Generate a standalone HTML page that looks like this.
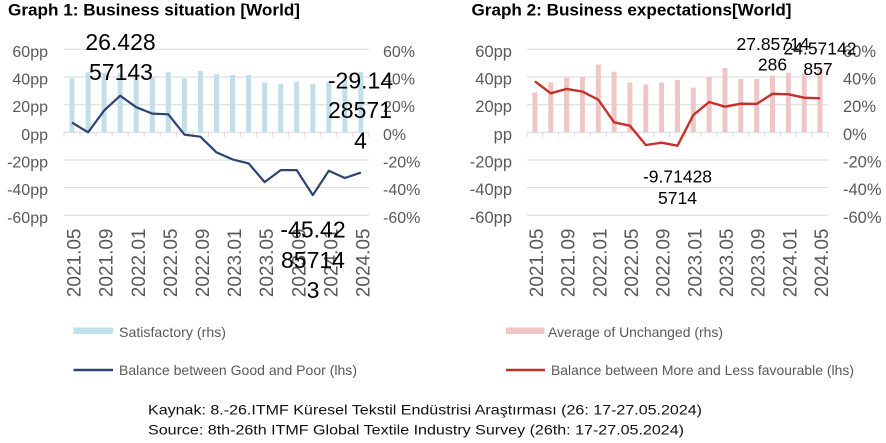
<!DOCTYPE html>
<html>
<head>
<meta charset="utf-8">
<style>
  html, body { margin: 0; padding: 0; background: #ffffff; }
  svg { display: block; }
  text { font-family: "Liberation Sans", Arial, sans-serif; }
</style>
</head>
<body>
<svg width="886" height="443" viewBox="0 0 886 443" xmlns="http://www.w3.org/2000/svg">
  <rect x="0" y="0" width="886" height="443" fill="#ffffff"/>

  <!-- Titles -->
  <text x="8" y="15.5" font-size="17" font-weight="bold" fill="#000" textLength="292" lengthAdjust="spacingAndGlyphs">Graph 1: Business situation [World]</text>
  <text x="471.5" y="15.5" font-size="17" font-weight="bold" fill="#000" textLength="320" lengthAdjust="spacingAndGlyphs">Graph 2: Business expectations[World]</text>

  <!-- ============ CHART 1 ============ -->
  <g stroke="#d9d9d9" stroke-width="1">
    <line x1="64" y1="49.3" x2="369" y2="49.3"/>
    <line x1="64" y1="77" x2="369" y2="77"/>
    <line x1="64" y1="104.7" x2="369" y2="104.7"/>
    <line x1="64" y1="132.3" x2="369" y2="132.3"/>
    <line x1="64" y1="160" x2="369" y2="160"/>
    <line x1="64" y1="187.6" x2="369" y2="187.6"/>
    <line x1="64" y1="215.3" x2="369" y2="215.3"/>
    <!-- ticks -->
    <line x1="64" y1="132.3" x2="64" y2="137"/>
    <line x1="80.05" y1="132.3" x2="80.05" y2="137"/>
    <line x1="96.1" y1="132.3" x2="96.1" y2="137"/>
    <line x1="112.15" y1="132.3" x2="112.15" y2="137"/>
    <line x1="128.2" y1="132.3" x2="128.2" y2="137"/>
    <line x1="144.25" y1="132.3" x2="144.25" y2="137"/>
    <line x1="160.3" y1="132.3" x2="160.3" y2="137"/>
    <line x1="176.35" y1="132.3" x2="176.35" y2="137"/>
    <line x1="192.4" y1="132.3" x2="192.4" y2="137"/>
    <line x1="208.45" y1="132.3" x2="208.45" y2="137"/>
    <line x1="224.5" y1="132.3" x2="224.5" y2="137"/>
    <line x1="240.55" y1="132.3" x2="240.55" y2="137"/>
    <line x1="256.6" y1="132.3" x2="256.6" y2="137"/>
    <line x1="272.65" y1="132.3" x2="272.65" y2="137"/>
    <line x1="288.7" y1="132.3" x2="288.7" y2="137"/>
    <line x1="304.75" y1="132.3" x2="304.75" y2="137"/>
    <line x1="320.8" y1="132.3" x2="320.8" y2="137"/>
    <line x1="336.85" y1="132.3" x2="336.85" y2="137"/>
    <line x1="352.9" y1="132.3" x2="352.9" y2="137"/>
    <line x1="369" y1="132.3" x2="369" y2="137"/>
  </g>

  <!-- bars chart 1 -->
  <g fill="#bfe0ea">
    <rect x="69.5" y="78.4" width="5" height="53.9"/>
    <rect x="85.6" y="72.3" width="5" height="60"/>
    <rect x="101.6" y="73.2" width="5" height="59.1"/>
    <rect x="117.7" y="72.8" width="5" height="59.5"/>
    <rect x="133.7" y="74.3" width="5" height="58"/>
    <rect x="149.8" y="77" width="5" height="55.3"/>
    <rect x="165.8" y="72.3" width="5" height="60"/>
    <rect x="181.9" y="78.4" width="5" height="53.9"/>
    <rect x="197.9" y="71" width="5" height="61.3"/>
    <rect x="214" y="74.3" width="5" height="58"/>
    <rect x="230" y="75" width="5" height="57.3"/>
    <rect x="246.1" y="75" width="5" height="57.3"/>
    <rect x="262.1" y="82.6" width="5" height="49.7"/>
    <rect x="278.2" y="84" width="5" height="48.3"/>
    <rect x="294.2" y="81.7" width="5" height="50.6"/>
    <rect x="310.3" y="84" width="5" height="48.3"/>
    <rect x="326.3" y="82.1" width="5" height="50.2"/>
    <rect x="342.4" y="80" width="5" height="52.3"/>
    <rect x="358.4" y="71.7" width="5" height="60.6"/>
  </g>

  <!-- line chart 1 -->
  <polyline fill="none" stroke="#2c4373" stroke-width="2.2" stroke-linejoin="round"
    points="72,122.6 88.1,132.3 104.1,110.6 120.2,95.7 136.2,107.2 152.3,113.6 168.3,114.3 184.4,134.6 200.4,136.7 216.5,152.4 232.5,159.4 248.6,163.4 264.6,182.1 280.7,170.1 296.7,170.1 312.8,195.1 328.8,170.8 344.9,178 360.9,172.6"/>

  <!-- axis labels chart 1 -->
  <g font-size="16" fill="#595959" text-anchor="end">
    <text x="48" y="56.8">60pp</text>
    <text x="48" y="84.5">40pp</text>
    <text x="48" y="112.2">20pp</text>
    <text x="48" y="139.8">0pp</text>
    <text x="48" y="167.5">-20pp</text>
    <text x="48" y="195.1">-40pp</text>
    <text x="48" y="222.8">-60pp</text>
  </g>
  <g font-size="16" fill="#595959">
    <text x="383" y="56.8">60%</text>
    <text x="383" y="84.5">40%</text>
    <text x="383" y="112.2">20%</text>
    <text x="383" y="139.8">0%</text>
    <text x="383" y="167.5">-20%</text>
    <text x="383" y="195.1">-40%</text>
    <text x="383" y="222.8">-60%</text>
  </g>

  <!-- category labels chart 1 -->
  <g font-size="19" fill="#595959" text-anchor="end">
    <text transform="translate(80.6,228.5) rotate(-90)">2021.05</text>
    <text transform="translate(112.7,228.5) rotate(-90)">2021.09</text>
    <text transform="translate(144.8,228.5) rotate(-90)">2022.01</text>
    <text transform="translate(176.9,228.5) rotate(-90)">2022.05</text>
    <text transform="translate(209,228.5) rotate(-90)">2022.09</text>
    <text transform="translate(241.1,228.5) rotate(-90)">2023.01</text>
    <text transform="translate(273.2,228.5) rotate(-90)">2023.05</text>
    <text transform="translate(305.3,228.5) rotate(-90)">2023.09</text>
    <text transform="translate(337.4,228.5) rotate(-90)">2024.01</text>
    <text transform="translate(369.5,228.5) rotate(-90)">2024.05</text>
  </g>

  <!-- data labels chart 1 -->
  <g font-size="23" fill="#000" text-anchor="middle">
    <text x="120.5" y="50">26.428</text>
    <text x="121" y="80">57143</text>
    <text x="360.5" y="88.3">-29.14</text>
    <text x="360" y="118">28571</text>
    <text x="360.5" y="148.3">4</text>
    <text x="313" y="237.7">-45.42</text>
    <text x="313" y="268">85714</text>
    <text x="313" y="298">3</text>
  </g>

  <!-- ============ CHART 2 ============ -->
  <g stroke="#d9d9d9" stroke-width="1">
    <line x1="527" y1="49.3" x2="828" y2="49.3"/>
    <line x1="527" y1="77" x2="828" y2="77"/>
    <line x1="527" y1="104.7" x2="828" y2="104.7"/>
    <line x1="527" y1="132.3" x2="828" y2="132.3"/>
    <line x1="527" y1="160" x2="828" y2="160"/>
    <line x1="527" y1="187.6" x2="828" y2="187.6"/>
    <line x1="527" y1="215.3" x2="828" y2="215.3"/>
    <line x1="527" y1="132.3" x2="527" y2="137"/>
    <line x1="542.84" y1="132.3" x2="542.84" y2="137"/>
    <line x1="558.68" y1="132.3" x2="558.68" y2="137"/>
    <line x1="574.52" y1="132.3" x2="574.52" y2="137"/>
    <line x1="590.36" y1="132.3" x2="590.36" y2="137"/>
    <line x1="606.2" y1="132.3" x2="606.2" y2="137"/>
    <line x1="622.04" y1="132.3" x2="622.04" y2="137"/>
    <line x1="637.88" y1="132.3" x2="637.88" y2="137"/>
    <line x1="653.72" y1="132.3" x2="653.72" y2="137"/>
    <line x1="669.56" y1="132.3" x2="669.56" y2="137"/>
    <line x1="685.4" y1="132.3" x2="685.4" y2="137"/>
    <line x1="701.24" y1="132.3" x2="701.24" y2="137"/>
    <line x1="717.08" y1="132.3" x2="717.08" y2="137"/>
    <line x1="732.92" y1="132.3" x2="732.92" y2="137"/>
    <line x1="748.76" y1="132.3" x2="748.76" y2="137"/>
    <line x1="764.6" y1="132.3" x2="764.6" y2="137"/>
    <line x1="780.44" y1="132.3" x2="780.44" y2="137"/>
    <line x1="796.28" y1="132.3" x2="796.28" y2="137"/>
    <line x1="812.12" y1="132.3" x2="812.12" y2="137"/>
    <line x1="828" y1="132.3" x2="828" y2="137"/>
  </g>

  <!-- bars chart 2 -->
  <g fill="#efc6c5">
    <rect x="532.4" y="92.5" width="5" height="39.8"/>
    <rect x="548.3" y="82.5" width="5" height="49.8"/>
    <rect x="564.1" y="77.7" width="5" height="54.6"/>
    <rect x="579.9" y="76.8" width="5" height="55.5"/>
    <rect x="595.8" y="64.4" width="5" height="67.9"/>
    <rect x="611.6" y="71.7" width="5" height="60.6"/>
    <rect x="627.4" y="82.5" width="5" height="49.8"/>
    <rect x="643.3" y="84.3" width="5" height="48"/>
    <rect x="659.1" y="82.6" width="5" height="49.7"/>
    <rect x="675" y="80" width="5" height="52.3"/>
    <rect x="690.8" y="87.6" width="5" height="44.7"/>
    <rect x="706.7" y="77.2" width="5" height="55.1"/>
    <rect x="722.5" y="68" width="5" height="64.3"/>
    <rect x="738.3" y="79" width="5" height="53.3"/>
    <rect x="754.2" y="79" width="5" height="53.3"/>
    <rect x="770" y="75.6" width="5" height="56.7"/>
    <rect x="785.9" y="72.8" width="5" height="59.5"/>
    <rect x="801.7" y="73.6" width="5" height="58.7"/>
    <rect x="817.5" y="67.7" width="5" height="64.6"/>
  </g>

  <!-- line chart 2 -->
  <polyline fill="none" stroke="#c6302b" stroke-width="2.4" stroke-linejoin="round"
    points="534.9,81.3 550.8,93.3 566.6,88.9 582.4,91.6 598.3,99.7 614.1,122.3 629.9,125.7 645.8,145 661.6,142.7 677.5,145.7 693.3,115 709.2,102 725,106.7 740.8,103.7 756.7,103.9 772.5,93.8 788.4,94.3 804.2,97.7 820,98.3"/>

  <!-- axis labels chart 2 -->
  <g font-size="16.5" fill="#595959" text-anchor="end">
    <text x="512" y="56.8">60pp</text>
    <text x="512" y="84.5">40pp</text>
    <text x="512" y="112.2">20pp</text>
    <text x="512" y="139.8">pp</text>
    <text x="512" y="167.5">-20pp</text>
    <text x="512" y="195.1">-40pp</text>
    <text x="512" y="222.8">-60pp</text>
  </g>
  <g font-size="16.5" fill="#595959">
    <text x="843" y="56.8">60%</text>
    <text x="843" y="84.5">40%</text>
    <text x="843" y="112.2">20%</text>
    <text x="843" y="139.8">0%</text>
    <text x="843" y="167.5">-20%</text>
    <text x="843" y="195.1">-40%</text>
    <text x="843" y="222.8">-60%</text>
  </g>

  <!-- category labels chart 2 -->
  <g font-size="19" fill="#595959" text-anchor="end">
    <text transform="translate(543,228.5) rotate(-90)">2021.05</text>
    <text transform="translate(574.7,228.5) rotate(-90)">2021.09</text>
    <text transform="translate(606.3,228.5) rotate(-90)">2022.01</text>
    <text transform="translate(638,228.5) rotate(-90)">2022.05</text>
    <text transform="translate(669.7,228.5) rotate(-90)">2022.09</text>
    <text transform="translate(701.4,228.5) rotate(-90)">2023.01</text>
    <text transform="translate(733,228.5) rotate(-90)">2023.05</text>
    <text transform="translate(764.7,228.5) rotate(-90)">2023.09</text>
    <text transform="translate(796.4,228.5) rotate(-90)">2024.01</text>
    <text transform="translate(828,228.5) rotate(-90)">2024.05</text>
  </g>

  <!-- data labels chart 2 -->
  <g font-size="17.5" fill="#000" text-anchor="middle">
    <text x="773" y="50">27.85714</text>
    <text x="772.5" y="70.7">286</text>
    <text x="820" y="54.3">24.57142</text>
    <text x="818" y="75">857</text>
    <text x="677.5" y="182.7">-9.71428</text>
    <text x="677.5" y="204">5714</text>
  </g>

  <!-- ============ LEGENDS ============ -->
  <rect x="73.5" y="327.5" width="39.5" height="6.5" fill="#bfe0ea"/>
  <text x="119" y="337" font-size="14" fill="#595959" textLength="107" lengthAdjust="spacingAndGlyphs">Satisfactory (rhs)</text>
  <line x1="73.5" y1="370" x2="113" y2="370" stroke="#2c4373" stroke-width="2.5"/>
  <text x="119" y="375" font-size="14" fill="#595959" textLength="238" lengthAdjust="spacingAndGlyphs">Balance between Good and Poor (lhs)</text>

  <rect x="506" y="327.5" width="38.5" height="6.5" fill="#efc6c5"/>
  <text x="548" y="337" font-size="14" fill="#595959" textLength="175" lengthAdjust="spacingAndGlyphs">Average of Unchanged (rhs)</text>
  <line x1="506" y1="370" x2="545" y2="370" stroke="#c6302b" stroke-width="2.5"/>
  <text x="551" y="375" font-size="14" fill="#595959" textLength="303" lengthAdjust="spacingAndGlyphs">Balance between More and Less favourable (lhs)</text>

  <!-- Source -->
  <text x="148" y="414.5" font-size="14" fill="#111" textLength="554" lengthAdjust="spacingAndGlyphs">Kaynak: 8.-26.ITMF Küresel Tekstil Endüstrisi Araştırması (26: 17-27.05.2024)</text>
  <text x="148" y="434.5" font-size="14" fill="#111" textLength="536" lengthAdjust="spacingAndGlyphs">Source: 8th-26th ITMF Global Textile Industry Survey (26th: 17-27.05.2024)</text>
</svg>
</body>
</html>
